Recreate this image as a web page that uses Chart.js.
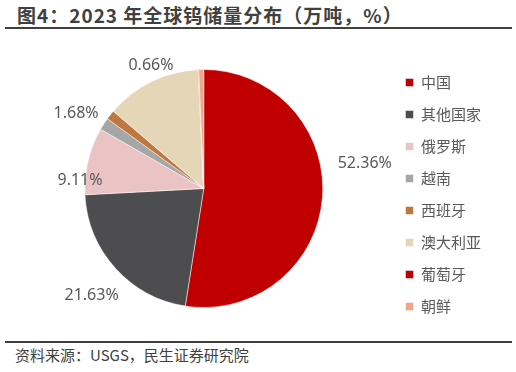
<!DOCTYPE html>
<html>
<head>
<meta charset="utf-8">
<script src="https://cdn.jsdelivr.net/npm/chart.js@4/dist/chart.umd.min.js"></script>
<style>
  html, body { margin: 0; padding: 0; background: #fff; }
  #wrap { position: relative; width: 516px; height: 372px; overflow: hidden; }
  #title { position: absolute; left: 17px; top: 1px; font-family: "Noto Sans CJK SC", sans-serif; font-weight: bold; font-size: 19px; color: #404040; white-space: nowrap; letter-spacing: 1px; }
  #line1 { position: absolute; left: 5px; top: 27px; width: 507px; height: 2px; background: #3f3f3f; }
  #line2 { position: absolute; left: 5px; top: 341px; width: 507px; height: 1.5px; background: #3f3f3f; }
  #source { position: absolute; left: 15px; top: 344px; font-family: "Noto Sans CJK SC", sans-serif; font-size: 15px; color: #404040; white-space: nowrap; }
  #cv { position: absolute; left: 0; top: 32px; }
</style>
</head>
<body>
<div id="wrap">
  <div id="title">图4：2023 年全球钨储量分布（万吨，%）</div>
  <div id="line1"></div>
  <canvas id="cv" width="516" height="306"></canvas>
  <div id="line2"></div>
  <div id="source">资料来源：USGS，民生证券研究院</div>
</div>
<script>
// ---- data ----
const categories = ['中国', '其他国家', '俄罗斯', '越南', '西班牙', '澳大利亚', '葡萄牙', '朝鲜'];
const shares = [52.36, 21.63, 9.11, 1.68, 1.28, 12.98, 0.07, 0.66];
const showLabel = [true, true, true, true, false, false, false, true];
const sliceColors = ['#C00000', '#4D4D4F', '#EAC4C4', '#A6A6A6', '#C0763F', '#E6D6B8', '#C00000', '#F1A68C'];

// label placement style (relative to slice geometry): angle shift (deg) and distance from centre (px)
const labelPlacement = [
  { shift: -13.4, dist: 163 },
  { shift: -1.6, dist: 155 },
  { shift: -9.8, dist: 124 },
  { shift: -2.5, dist: 148 },
  null, null, null,
  { shift: -22, dist: 134 }
];

const pieLabels = {
  id: 'pieLabels',
  afterDatasetsDraw(chart) {
    const ctx = chart.ctx;
    const meta = chart.getDatasetMeta(0);
    ctx.save();
    ctx.font = '16px "Noto Sans", sans-serif';
    ctx.fillStyle = '#595959';
    ctx.textAlign = 'center';
    ctx.textBaseline = 'middle';
    meta.data.forEach((arc, i) => {
      if (!showLabel[i]) return;
      const p = labelPlacement[i];
      const mid = (arc.startAngle + arc.endAngle) / 2 + p.shift * Math.PI / 180;
      const x = arc.x + Math.cos(mid) * p.dist;
      const y = arc.y + Math.sin(mid) * p.dist;
      ctx.fillText(shares[i].toFixed(2) + '%', x, y);
    });
    ctx.restore();
  }
};

new Chart(document.getElementById('cv'), {
  type: 'pie',
  data: {
    labels: categories,
    datasets: [{
      data: shares,
      backgroundColor: sliceColors,
      borderColor: '#ffffff',
      borderWidth: 0.5,
      radius: 119
    }]
  },
  options: {
    responsive: false,
    animation: false,
    layout: { padding: { top: 7, bottom: 0, left: 19, right: 25 } },
    plugins: {
      legend: {
        position: 'right',
        title: { display: true, text: '', padding: 0, font: { size: 10 } },
        labels: {
          boxWidth: 8,
          boxHeight: 8,
          padding: 17,
          color: '#595959',
          font: { family: '"Noto Sans CJK SC", sans-serif', size: 15 }
        }
      },
      tooltip: { enabled: false }
    }
  },
  plugins: [pieLabels]
});
</script>
</body>
</html>
